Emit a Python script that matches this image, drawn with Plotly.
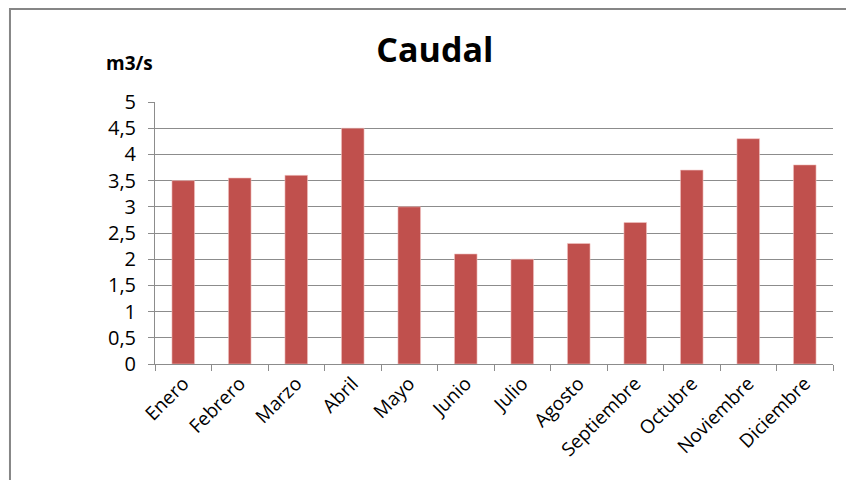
import plotly.graph_objects as go

# Caudal mensual (m3/s)
months = ['Enero', 'Febrero', 'Marzo', 'Abril', 'Mayo', 'Junio', 'Julio',
          'Agosto', 'Septiembre', 'Octubre', 'Noviembre', 'Diciembre']
caudal = [3.5, 3.55, 3.6, 4.5, 3.0, 2.1, 2.0, 2.3, 2.7, 3.7, 4.3, 3.8]
y_ticks = [0, 0.5, 1, 1.5, 2, 2.5, 3, 3.5, 4, 4.5, 5]
y_labels = ['0', '0,5', '1', '1,5', '2', '2,5', '3', '3,5', '4', '4,5', '5']

font_family = "Open Sans, Noto Sans, sans-serif"
grid_color = '#8c8c8c'

fig = go.Figure()

fig.add_trace(go.Bar(
    x=months,
    y=caudal,
    marker=dict(color='#c0504d', line=dict(color='#f2c4c3', width=0.6)),
    showlegend=False
))

fig.update_layout(
    width=846,
    height=480,
    paper_bgcolor='white',
    plot_bgcolor='white',
    margin=dict(l=155, r=13, t=102, b=116),
    bargap=0.6,
    font=dict(family=font_family, color='#000000'),
    title=dict(text='<b>Caudal</b>', x=0.514, xref='container', xanchor='center',
               y=0.896, yref='container', yanchor='middle',
               font=dict(size=34, family=font_family, color='#000000')),
)

fig.update_xaxes(
    tickangle=-45,
    tickfont=dict(size=19),
    showline=True, linecolor=grid_color, linewidth=1,
    ticks='outside', ticklen=6, tickcolor=grid_color, tickson='boundaries',
    showgrid=False,
)

fig.update_yaxes(
    range=[0, 5],
    tickvals=y_ticks,
    ticktext=y_labels,
    tickfont=dict(size=20),
    ticklabelstandoff=8,
    showgrid=True, gridcolor=grid_color, gridwidth=1,
    showline=True, linecolor=grid_color, linewidth=1,
    ticks='outside', ticklen=6, tickcolor=grid_color,
    zeroline=False,
)

# unidad del eje
fig.add_annotation(text='<b>m3/s</b>', xref='paper', yref='paper',
                   x=0.0, y=1.149, xanchor='right', yanchor='middle',
                   showarrow=False, font=dict(size=19, family=font_family))

# marco del gráfico (solo se ven los lados izquierdo y superior)
fig.add_shape(type='rect', xref='paper', yref='paper',
              x0=-0.2139, x1=1.2, y0=-0.7, y1=1.355,
              line=dict(color='#868686', width=2), fillcolor='rgba(0,0,0,0)')

# drop the default 8px body margin so the figure fills the window
fig.write_html("out.html",
               config={'displayModeBar': False},
               post_script="document.body.style.margin='0';document.body.style.overflow='hidden';")
